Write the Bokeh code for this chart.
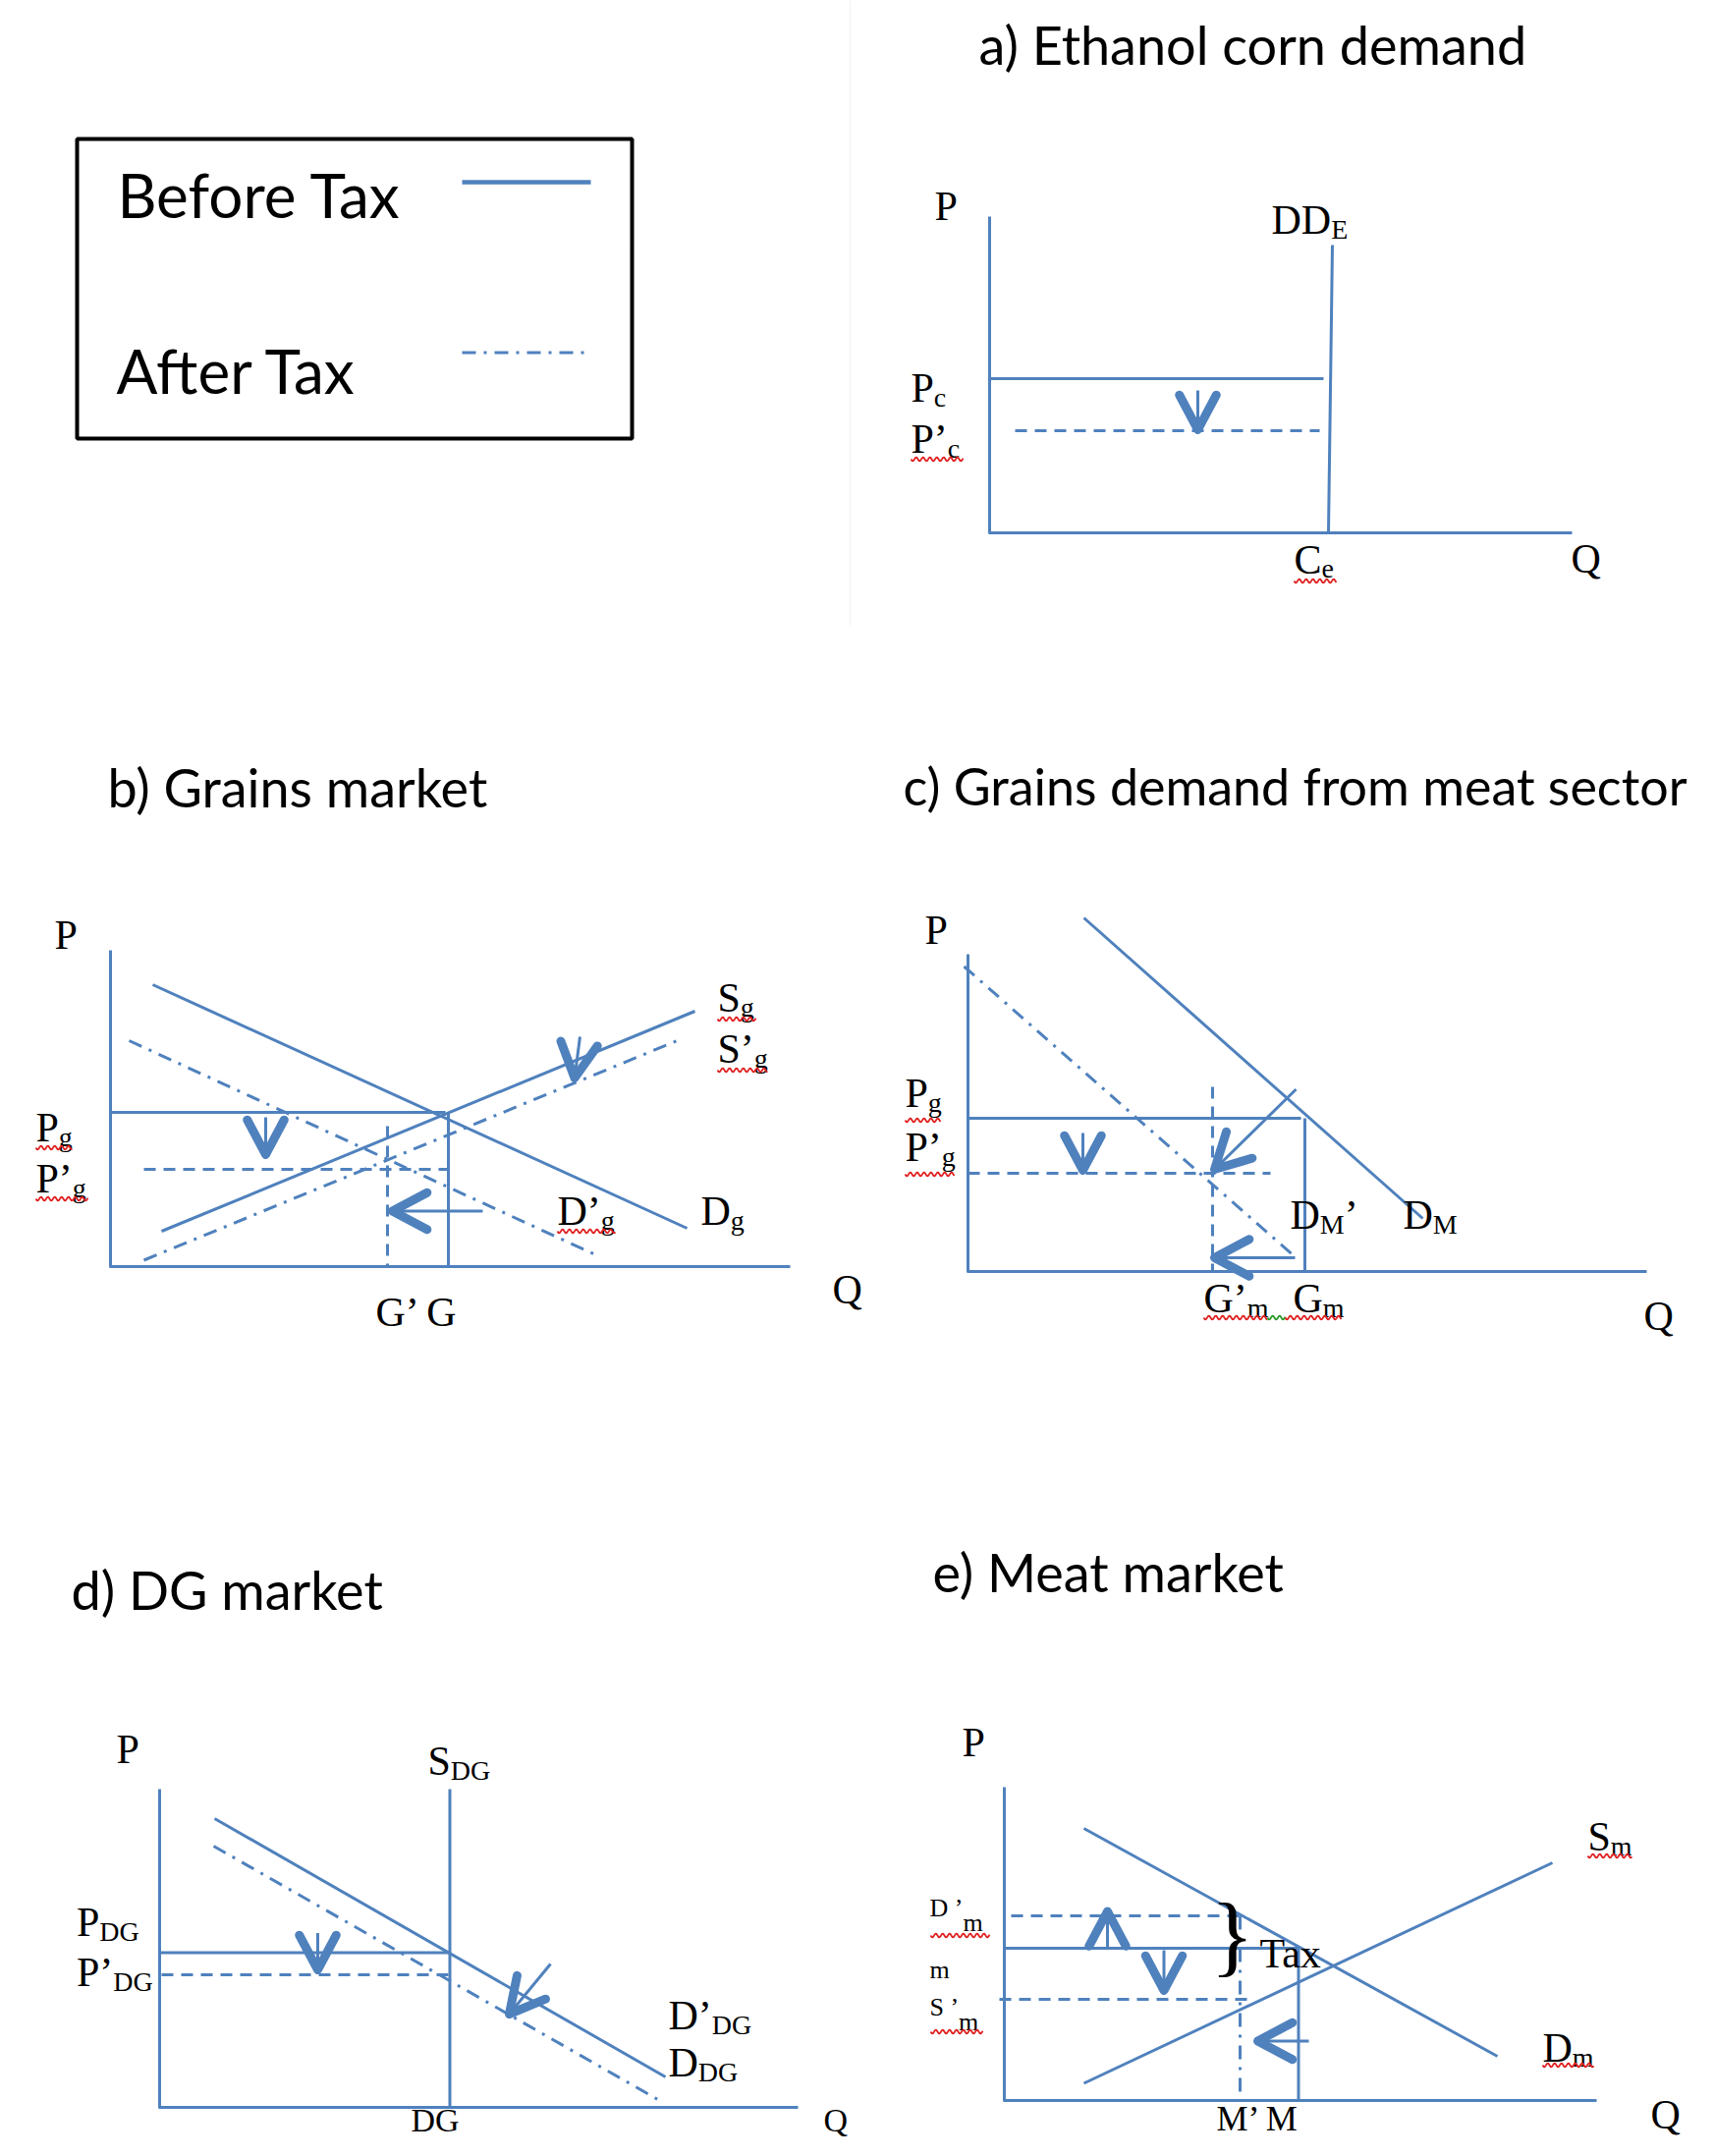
import numpy as np
from bokeh.plotting import figure
from bokeh.models import Range1d, ColumnDataSource
from bokeh.embed import file_html
from bokeh.resources import INLINE
from bokeh.core.properties import value

# ---------------------------------------------------------------------------
# DATA  (each panel: Q to the right, P upward, measured from the axis origin)
# ---------------------------------------------------------------------------
# a) Ethanol corn demand
a_axes = ([0, 0, 593], [322, 0, 0])
a_DD_E = ([349, 345], [293, 0])
a_Pc = ([0, 340], [157, 157])
a_Pc_after = ([26, 336], [104, 104])
a_arrows = [(212, 145, 212, 105)]

# b) Grains market
b_axes = ([0, 0, 692], [322, 0, 0])
b_D_g = ([43, 587], [287, 39])
b_S_g = ([52, 595], [36, 260])
b_Pg = ([0, 341], [157, 157])
b_G = ([344, 344], [157, 0])
b_Pg_after = ([34, 344], [99, 99])
b_G_after = ([282, 282], [143, 0])
b_D_g_after = ([19, 496], [230, 11])
b_S_g_after = ([34, 577], [6.5, 230])
b_arrows = [(158, 152, 158, 114), (478, 234, 472.5, 192), (379, 56.5, 287, 56.5)]

# c) Grains demand from meat sector
c_axes = ([0, 0, 691], [323, 0, 0])
c_D_M = ([118, 463], [360, 54])
c_Pg = ([0, 339], [156, 156])
c_Gm = ([343, 343], [156, 0])
c_Pg_after = ([0, 308], [100, 100])
c_Gm_after = ([249, 249], [188, 0])
c_D_M_after = ([-4, 334], [310.5, 14])
c_arrows = [(117, 141, 117, 103), (334, 185.5, 251, 104), (333, 14, 251, 14)]

# d) DG market
d_axes = ([0, 0, 650], [324, 0, 0])
d_S_DG = ([295.5, 295.5], [324, 0])
d_D_DG = ([56, 515], [294, 31])
d_P_DG = ([0, 295.5], [157.5, 157.5])
d_P_DG_after = ([2, 294], [135, 135])
d_D_DG_after = ([55, 512.5], [266, 5])
d_arrows = [(161, 177.5, 161, 140), (398, 146, 356, 95)]

# e) Meat market
e_axes = ([0, 0, 603], [319, 0, 0])
e_D_m = ([81, 502], [277, 45])
e_S_m = ([81, 558], [17.5, 242])
e_Pm = ([0, 299.5], [155, 155])
e_M = ([299.5, 299.5], [155, 0])
e_Dm_after = ([7, 240], [188, 188])
e_Sm_after = ([-5, 255], [103, 103])
e_M_after = ([240, 240], [188, 9])
e_arrows = [(105, 155, 105, 192.5), (162.5, 153, 162.5, 112), (310, 60.5, 258, 60.5)]

# labels: (panel, q, p, main, subscript, tail, size)
labels = [
    ("a", -56, 317, "P", "", "", 42), ("a", 287, 303, "DD", "E", "", 42),
    ("a", -80, 132, "P", "c", "", 42), ("a", -80, 80, "P’", "c", "", 42),
    ("a", 310, -43, "C", "e", "", 42), ("a", 592, -42, "Q", "", "", 42),
    ("b", -57, 322, "P", "", "", 42), ("b", 618, 258, "S", "g", "", 42),
    ("b", 618, 206, "S’", "g", "", 42), ("b", 601, 41, "D", "g", "", 42),
    ("b", 455, 41, "D’", "g", "", 42), ("b", -76, 126, "P", "g", "", 42),
    ("b", -76, 74, "P’", "g", "", 42), ("b", 270, -62, "G’ G", "", "", 42),
    ("b", 735, -39, "Q", "", "", 42),
    ("c", -44, 332, "P", "", "", 42), ("c", -64, 166, "P", "g", "", 42),
    ("c", -64, 111, "P’", "g", "", 42), ("c", 328, 42, "D", "M", "’", 42),
    ("c", 443, 42, "D", "M", "", 42), ("c", 240, -43, "G’", "m", "", 42),
    ("c", 331, -43, "G", "m", "", 42), ("c", 688, -61, "Q", "", "", 42),
    ("d", -44, 349, "P", "", "", 42), ("d", 273, 337, "S", "DG", "", 42),
    ("d", -84.5, 173, "P", "DG", "", 42), ("d", -84.5, 122, "P’", "DG", "", 42),
    ("d", 518, 78, "D’", "DG", "", 42), ("d", 518, 30, "D", "DG", "", 42),
    ("d", 256, -26, "DG", "", "", 34), ("d", 676, -26, "Q", "", "", 34),
    ("e", -43, 349, "P", "", "", 42), ("e", 594, 253, "S", "m", "", 42),
    ("e", 548, 38, "D", "m", "", 42), ("e", 216, -32, "M’ M", "", "", 36),
    ("e", 658, -30, "Q", "", "", 42), ("e", 260, 134, "Tax", "", "", 42),
]
small_labels = [("e", -76, 186, "D ’", "m"), ("e", -76, 123, "m", ""), ("e", -76, 85, "S ’", "m")]

titles = ["a) Ethanol corn demand", "b) Grains market", "c) Grains demand from meat sector",
          "d) DG market", "e) Meat market"]
legend_items = ["Before Tax", "After Tax"]

# ---------------------------------------------------------------------------
# LAYOUT / STYLE
# ---------------------------------------------------------------------------
W, H = 1729, 2179
ORIGIN = {"a": (1007, 542), "b": (112, 1289), "c": (985, 1294), "d": (162, 2145), "e": (1022, 2138)}
TITLE_POS = [(996, 67), (109, 823), (919, 821), (72, 1640), (949, 1622)]
TITLE_SIZE = [54, 54, 52, 54, 54]
BLUE = "#4F81BD"
SERIF = "Liberation Serif"
SANS = "Lato"
SUB_RATIO, DROP = 2 / 3, 4
DASH = "12 8"
DASHDOT = "14 8 3 8"
SERIF_SHIFT, SANS_SHIFT = 0.37, 0.41   # baseline correction (fraction of font size)

p = figure(width=W, height=H, x_range=Range1d(0, W), y_range=Range1d(H, 0),
           output_backend="svg", toolbar_location=None, min_border=0,
           x_axis_type=None, y_axis_type=None)
p.grid.visible = False
p.outline_line_color = None
p.background_fill_color = "white"
p.border_fill_color = "white"


def to_page(panel, qs, ps):
    ox, oy = ORIGIN[panel]
    return [ox + q for q in qs], [oy - v for v in ps]


def draw(panel, seg, dash="solid", width=3):
    xs, ys = to_page(panel, *seg)
    p.line(xs, ys, line_color=BLUE, line_width=width, line_dash=dash, line_join="round")


for pan, seg in [("a", a_axes), ("a", a_DD_E), ("a", a_Pc),
                 ("b", b_axes), ("b", b_D_g), ("b", b_S_g), ("b", b_Pg), ("b", b_G),
                 ("c", c_axes), ("c", c_D_M), ("c", c_Pg), ("c", c_Gm),
                 ("d", d_axes), ("d", d_S_DG), ("d", d_D_DG), ("d", d_P_DG),
                 ("e", e_axes), ("e", e_D_m), ("e", e_S_m), ("e", e_Pm), ("e", e_M)]:
    draw(pan, seg)
for pan, seg in [("a", a_Pc_after), ("b", b_Pg_after), ("b", b_G_after),
                 ("c", c_Pg_after), ("c", c_Gm_after), ("d", d_P_DG_after),
                 ("e", e_Dm_after), ("e", e_Sm_after)]:
    draw(pan, seg, DASH)
for pan, seg in [("b", b_D_g_after), ("b", b_S_g_after), ("c", c_D_M_after),
                 ("d", d_D_DG_after), ("e", e_M_after)]:
    draw(pan, seg, DASHDOT)

# arrows
ARM, ANG = 40, np.radians(28)
for pan, arr in [("a", a_arrows), ("b", b_arrows), ("c", c_arrows), ("d", d_arrows), ("e", e_arrows)]:
    for q0, p0, q1, p1 in arr:
        (x0, x1), (y0, y1) = to_page(pan, [q0, q1], [p0, p1])
        p.line([x0, x1], [y0, y1], line_color=BLUE, line_width=3)
        d = np.array([x0 - x1, y0 - y1]); d = d / np.hypot(*d)
        arms = []
        for s in (ANG, -ANG):
            r = np.array([[np.cos(s), -np.sin(s)], [np.sin(s), np.cos(s)]]) @ d
            arms.append((x1 + ARM * r[0], y1 + ARM * r[1]))
        p.line([arms[0][0], x1, arms[1][0]], [arms[0][1], y1, arms[1][1]], line_color=BLUE,
               line_width=9, line_cap="round", line_join="round")

# text helpers
TW = {"P": .556, "D": .722, "S": .556, "G": .722, "C": .667, "Q": .722, "M": .889, "T": .611,
      "E": .611, "’": .333, " ": .25, "a": .444, "x": .5, "m": .778, "g": .5, "c": .444, "e": .444}


def tw(s, size):
    return sum(TW.get(ch, .5) for ch in s) * size


serif = dict(x=[], y=[], text=[], size=[])


def put(x, y, s, size):
    serif["x"].append(x); serif["y"].append(y - SERIF_SHIFT * size)
    serif["text"].append(s); serif["size"].append(f"{size}px")


def label(panel, q, pp, main, sub="", tail="", size=42, subsize=None, drop=DROP):
    subsize = subsize or round(size * SUB_RATIO)
    ox, oy = ORIGIN[panel]
    x, y = ox + q, oy - pp
    put(x, y, main, size)
    x += tw(main, size)
    if sub:
        put(x, y + drop, sub, subsize)
        x += tw(sub, subsize)
    if tail:
        put(x, y, tail, size)


for lb in labels:
    label(*lb)
for pan, q, pp, main, sub in small_labels:
    label(pan, q, pp, main, sub, "", 26, 26, 15)
# brace for the tax wedge
bx, by = to_page("e", [210], [134])
put(bx[0], by[0], "}", 92)

p.text(x="x", y="y", text="text", text_font_size="size", source=ColumnDataSource(serif),
       text_font=value(SERIF), text_color="black", text_align="left", text_baseline="alphabetic")

# titles
sans = dict(x=[t[0] for t in TITLE_POS],
            y=[t[1] - SANS_SHIFT * s for t, s in zip(TITLE_POS, TITLE_SIZE)],
            text=titles, size=[f"{s}px" for s in TITLE_SIZE])
LEG_SIZE = 62
sans["x"] += [119, 118]
sans["y"] += [223 - SANS_SHIFT * LEG_SIZE, 402 - SANS_SHIFT * LEG_SIZE]
sans["text"] += legend_items
sans["size"] += [f"{LEG_SIZE}px"] * 2
p.text(x="x", y="y", text="text", text_font_size="size", source=ColumnDataSource(sans),
       text_font=value(SANS), text_color="black", text_align="left", text_baseline="alphabetic")

# legend box
p.quad(left=[78], right=[643], top=[141], bottom=[446], fill_color=None, line_color="black", line_width=4)
p.line([470, 601], [185, 185], line_color=BLUE, line_width=4.5)
p.line([470, 601], [358.5, 358.5], line_color=BLUE, line_width=3, line_dash=DASHDOT)

# faint divider of the original page
p.line([865, 865], [0, 637], line_color="#f3f3f3", line_width=1)

# spell-check squiggles
squiggles = [(927, 980, 467, "#e02020"), (1317, 1360, 591, "#e02020"),
             (730, 769, 1037, "#e02020"), (730, 781, 1089, "#e02020"), (567, 626, 1253, "#e02020"),
             (36, 73, 1168, "#e02020"), (36, 89, 1220, "#e02020"),
             (921, 957, 1140, "#e02020"), (921, 971, 1195, "#e02020"),
             (1225, 1290, 1341, "#e02020"), (1290, 1308, 1341, "#2a9d2a"), (1308, 1365, 1341, "#e02020"),
             (947, 1007, 1970, "#e02020"), (947, 1000, 2068, "#e02020"),
             (1616, 1661, 1889, "#e02020"), (1570, 1622, 2102, "#e02020")]
for x0, x1, y, col in squiggles:
    xs = np.arange(x0, x1 + 0.5, 1.0)
    ys = y + 2.0 * np.sin(2 * np.pi * (xs - x0) / 7.0)
    p.line(xs, ys, line_color=col, line_width=1.8)

open("out.html", "w").write(file_html(p, INLINE))
